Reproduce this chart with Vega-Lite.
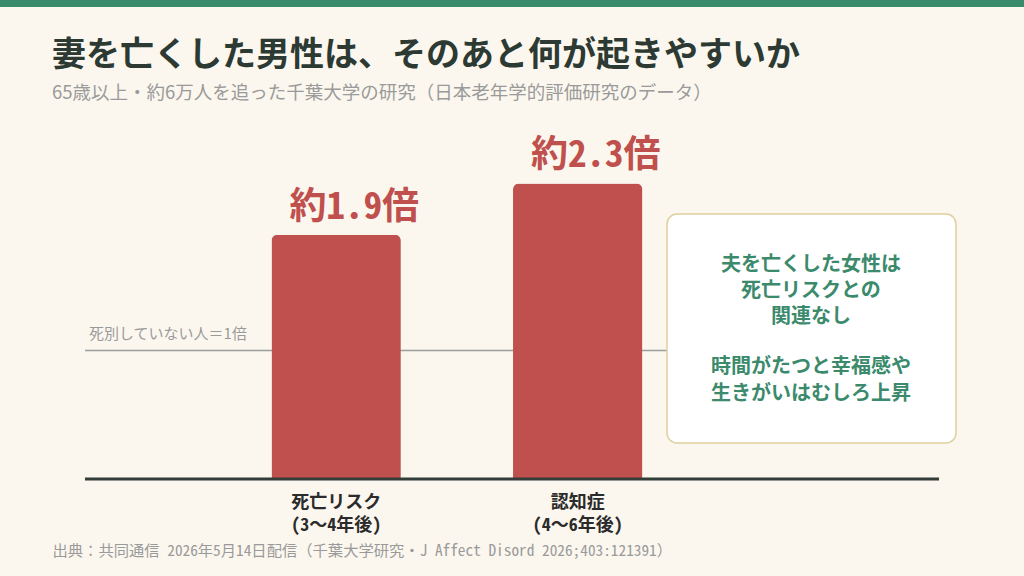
{
  "$schema": "https://vega.github.io/schema/vega-lite/v6.json",
  "width": 854,
  "height": 369,
  "autosize": {"type": "none"},
  "padding": {"left": 85, "right": 85, "top": 110, "bottom": 97},
  "background": "#fbf7ee",
  "title": {
    "text": "妻を亡くした男性は、そのあと何が起きやすいか",
    "subtitle": "65歳以上・約6万人を追った千葉大学の研究（日本老年学的評価研究のデータ）",
    "anchor": "start",
    "frame": "group",
    "dx": -33,
    "offset": -102,
    "font": "Noto Sans CJK JP",
    "fontSize": 34,
    "fontWeight": "bold",
    "color": "#2c3a33",
    "subtitleFont": "Noto Sans CJK JP",
    "subtitleFontSize": 18.5,
    "subtitleColor": "#9a9a9a",
    "subtitlePadding": 11
  },
  "layer": [
    {
      "data": {"values": [{"ref": 1}]},
      "mark": {"type": "rule", "color": "#9c9c9c", "strokeWidth": 1.5},
      "encoding": {
        "y": {"field": "ref", "type": "quantitative", "scale": {"domain": [0, 2.8716], "nice": false}, "axis": null}
      }
    },
    {
      "data": {
        "values": [
          {"item": "死亡リスク|(3〜4年後)", "ratio": 1.9},
          {"item": "認知症|(4〜6年後)", "ratio": 2.3}
        ]
      },
      "transform": [{"calculate": "'約' + format(datum.ratio, '.1f') + '倍'", "as": "label"}],
      "layer": [
        {
          "mark": {"type": "bar", "color": "#c0504d", "cornerRadiusTopLeft": 6, "cornerRadiusTopRight": 6},
          "encoding": {
            "x": {
              "field": "item",
              "type": "nominal",
              "sort": null,
              "scale": {"paddingInner": 0.4644, "paddingOuter": 1.0188, "align": 0.386},
              "axis": {
                "labelExpr": "split(datum.label, '|')",
                "labelAngle": 0,
                "domain": false,
                "ticks": false,
                "labelPadding": 14,
                "labelBaseline": "top",
                "labelFont": "Noto Sans Mono CJK JP, Noto Sans CJK JP, monospace",
                "labelFontSize": 18,
                "labelFontWeight": "bold",
                "labelColor": "#2b2b2b",
                "labelLineHeight": 23,
                "title": "出典：共同通信 2026年5月14日配信（千葉大学研究・J Affect Disord 2026;403:121391）",
                "titleX": -33,
                "titleY": 71,
                "titleAlign": "left",
                "titleAnchor": "start",
                "titleBaseline": "middle",
                "titleFont": "Noto Sans Mono CJK JP, Noto Sans CJK JP, monospace",
                "titleFontSize": 15.3,
                "titleFontWeight": "normal",
                "titleColor": "#9a9a9a"
              }
            },
            "y": {"field": "ratio", "type": "quantitative", "scale": {"domain": [0, 2.8716], "nice": false}, "axis": null}
          }
        },
        {
          "mark": {
            "type": "text",
            "baseline": "bottom",
            "dx": 18,
            "dy": -8,
            "font": "Noto Sans Mono CJK JP",
            "fontSize": 37,
            "fontWeight": "bold",
            "color": "#c0504d"
          },
          "encoding": {
            "x": {"field": "item", "type": "nominal", "sort": null},
            "y": {"field": "ratio", "type": "quantitative"},
            "text": {"field": "label"}
          }
        }
      ]
    },
    {
      "data": {
        "values": [
          {
            "note1": "夫を亡くした女性は|死亡リスクとの|関連なし",
            "note2": "時間がたつと幸福感や|生きがいはむしろ上昇",
            "refLabel": "死別していない人＝1倍"
          }
        ]
      },
      "layer": [
        {
          "mark": {"type": "rect", "color": "#3a8a6c"},
          "encoding": {
            "x": {"datum": -1.5, "type": "quantitative", "scale": {"domain": [0, 10], "nice": false, "zero": false}, "axis": null},
            "x2": {"datum": 12},
            "y": {"datum": 3.7276, "type": "quantitative", "scale": {"domain": [0, 2.8716], "nice": false}},
            "y2": {"datum": 3.673}
          }
        },
        {
          "mark": {"type": "rect", "fill": "#ffffff", "stroke": "#dfcf9f", "strokeWidth": 1.5, "cornerRadius": 10},
          "encoding": {
            "x": {"datum": 6.815, "type": "quantitative"},
            "x2": {"datum": 10.199},
            "y": {"datum": 2.062, "type": "quantitative"},
            "y2": {"datum": 0.28}
          }
        },
        {
          "mark": {
            "type": "text",
            "align": "center",
            "baseline": "middle",
            "lineBreak": "|",
            "lineHeight": 26,
            "font": "Noto Sans CJK JP",
            "fontSize": 20,
            "fontWeight": "bold",
            "color": "#3b8a6c"
          },
          "encoding": {
            "x": {"datum": 8.5, "type": "quantitative"},
            "y": {"datum": 1.666, "type": "quantitative"},
            "text": {"field": "note1"}
          }
        },
        {
          "mark": {
            "type": "text",
            "align": "center",
            "baseline": "middle",
            "lineBreak": "|",
            "lineHeight": 26.5,
            "font": "Noto Sans CJK JP",
            "fontSize": 20,
            "fontWeight": "bold",
            "color": "#3b8a6c"
          },
          "encoding": {
            "x": {"datum": 8.5, "type": "quantitative"},
            "y": {"datum": 0.871, "type": "quantitative"},
            "text": {"field": "note2"}
          }
        },
        {
          "mark": {
            "type": "text",
            "align": "left",
            "baseline": "bottom",
            "dy": -9,
            "font": "Noto Sans CJK JP",
            "fontSize": 15,
            "color": "#9a9a9a"
          },
          "encoding": {
            "x": {"datum": 0.047, "type": "quantitative"},
            "y": {"datum": 1, "type": "quantitative"},
            "text": {"field": "refLabel"}
          }
        },
        {
          "mark": {"type": "rule", "color": "#333d38", "strokeWidth": 3},
          "encoding": {
            "y": {"datum": 0, "type": "quantitative"}
          }
        }
      ]
    }
  ],
  "resolve": {"scale": {"x": "independent"}},
  "config": {
    "view": {"stroke": null}
  }
}
